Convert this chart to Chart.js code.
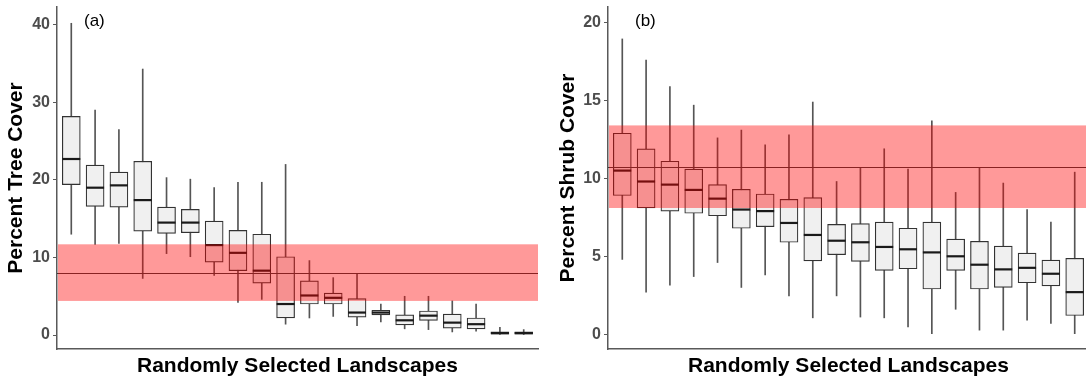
<!DOCTYPE html>
<html>
<head>
<meta charset="utf-8">
<script src="https://cdn.jsdelivr.net/npm/chart.js@4/dist/chart.umd.min.js"></script>
<style>
  html, body { margin: 0; padding: 0; background: #fff; width: 1086px; height: 381px; overflow: hidden; }
  #wrapA { position: absolute; left: 0; top: 0; }
  #wrapB { position: absolute; left: 543px; top: 0; }
</style>
</head>
<body>
<div id="wrapA"><canvas id="chartA" width="543" height="381"></canvas></div>
<div id="wrapB"><canvas id="chartB" width="551" height="381"></canvas></div>
<script>
// landscapes 1..20 (x positions on the discrete axis)
const landscapes = [1, 2, 3, 4, 5, 6, 7, 8, 9, 10, 11, 12, 13, 14, 15, 16, 17, 18, 19, 20];

// (a) percent tree cover
const treeLow  = [13.0, 11.7, 11.8, 7.3, 10.5, 10.1, 7.7, 4.2, 4.6, 1.4, 2.2, 2.4, 1.2, 1.7, 0.8, 0.7, 0.4, 0.5, 0.0, 0.0];
const treeQ1   = [19.4, 16.6, 16.5, 13.4, 13.1, 13.2, 9.4, 8.3, 6.7, 2.2, 4.0, 4.0, 2.3, 2.6, 1.3, 1.9, 0.9, 0.8, 0.1, 0.1];
const treeMed  = [22.7, 19.0, 19.3, 17.4, 14.5, 14.5, 11.6, 10.6, 8.3, 4.0, 5.1, 4.8, 2.9, 2.9, 1.9, 2.5, 1.6, 1.4, 0.25, 0.25];
const treeQ3   = [28.2, 21.9, 21.0, 22.4, 16.5, 16.2, 14.7, 13.5, 13.0, 10.1, 7.0, 5.4, 4.7, 3.2, 2.6, 3.1, 2.7, 2.2, 0.4, 0.4];
const treeHigh = [40.2, 29.0, 26.5, 34.3, 20.3, 20.1, 19.0, 19.7, 19.7, 22.0, 9.6, 7.4, 7.9, 4.0, 5.0, 5.0, 4.4, 4.0, 1.0, 0.7];
const treeBand = { mean: 8.0, lo: 4.4, hi: 11.7 };

// (b) percent shrub cover
const shrubLow  = [4.8, 2.7, 3.15, 3.7, 4.6, 3.0, 3.8, 2.46, 1.05, 2.46, 1.1, 1.05, 0.47, 0.0, 1.6, 0.26, 0.26, 0.9, 0.69, 0.0];
const shrubQ1   = [8.9, 8.1, 7.9, 7.76, 7.6, 6.8, 6.9, 5.9, 4.7, 5.1, 4.67, 4.1, 4.2, 2.9, 4.1, 2.9, 3.0, 3.3, 3.1, 1.2];
const shrubMed  = [10.5, 9.8, 9.6, 9.26, 8.7, 8.0, 7.9, 7.14, 6.37, 6.0, 5.9, 5.6, 5.45, 5.25, 5.0, 4.46, 4.16, 4.26, 3.88, 2.7];
const shrubQ3   = [12.9, 11.9, 11.1, 10.6, 9.6, 9.3, 9.0, 8.66, 8.77, 7.05, 7.1, 7.2, 6.8, 7.2, 6.1, 5.96, 5.66, 5.2, 4.76, 4.87];
const shrubHigh = [18.95, 17.6, 15.9, 14.7, 12.6, 13.1, 12.15, 12.8, 14.9, 9.8, 10.7, 11.9, 10.6, 13.7, 9.1, 10.7, 9.7, 8.0, 7.2, 10.4];
const shrubBand = { mean: 10.7, lo: 8.1, hi: 13.4 };

const tickFont = { family: '"Liberation Sans", Arial, sans-serif', size: 16, weight: 'bold' };
const titleFont = { family: '"Liberation Sans", Arial, sans-serif', size: 21, weight: 'bold' };

// mean line + red reference band drawn over the boxes, plus the panel tag
const bandPlugin = {
  id: 'band',
  afterDatasetsDraw(chart, args, opts) {
    const { ctx, chartArea: a, scales: { y } } = chart;
    ctx.save();
    ctx.beginPath();
    ctx.rect(a.left, a.top, a.right - a.left, a.bottom - a.top);
    ctx.clip();
    const ym = Math.round(y.getPixelForValue(opts.mean)) + 0.5;
    ctx.strokeStyle = '#3a3a3a';
    ctx.lineWidth = 1;
    ctx.beginPath();
    ctx.moveTo(a.left, ym);
    ctx.lineTo(a.right, ym);
    ctx.stroke();
    const yTop = y.getPixelForValue(opts.hi);
    const yBot = y.getPixelForValue(opts.lo);
    ctx.fillStyle = 'rgba(255, 0, 0, 0.4)';
    ctx.fillRect(a.left + 1, yTop, a.right - a.left, yBot - yTop);
    ctx.restore();

    ctx.save();
    ctx.fillStyle = '#000';
    ctx.font = '17px "Liberation Sans", Arial, sans-serif';
    ctx.textBaseline = 'middle';
    ctx.fillText(opts.tag, a.left + 27, 21);
    ctx.restore();
  }
};

function makePanel(id, low, q1, med, q3, high, band, tag, yTitle, yMin, yMax, step, yWidth, yTitlePad) {
  const whiskers = landscapes.map((x, i) => ({ x: x, y: [low[i], high[i]] }));
  const boxes = landscapes.map((x, i) => ({ x: x, y: [q1[i], q3[i]] }));
  const medians = landscapes.map((x, i) => ({ x: x, y: med[i] }));

  return new Chart(document.getElementById(id), {
    type: 'bar',
    data: {
      datasets: [
        {
          label: 'whisker',
          data: whiskers,
          grouped: false,
          barThickness: 1,
          backgroundColor: '#555',
          borderWidth: 0,
          order: 3
        },
        {
          label: 'box',
          data: boxes,
          grouped: false,
          barThickness: 18,
          backgroundColor: '#f0f0f0',
          borderColor: '#333',
          borderWidth: 1.2,
          borderSkipped: false,
          order: 2
        },
        {
          type: 'line',
          label: 'median',
          data: medians,
          showLine: false,
          pointStyle: 'line',
          pointRadius: 9,
          pointHoverRadius: 9,
          borderColor: '#1a1a1a',
          borderWidth: 2.2,
          order: 1
        }
      ]
    },
    options: {
      responsive: false,
      animation: false,
      devicePixelRatio: 1,
      layout: { autoPadding: false, padding: { left: 0, right: 5, top: 7, bottom: 0 } },
      plugins: {
        legend: { display: false },
        tooltip: { enabled: false },
        band: { mean: band.mean, lo: band.lo, hi: band.hi, tag: tag }
      },
      scales: {
        x: {
          type: 'linear',
          min: 0.4,
          max: 20.6,
          offset: false,
          grid: { display: false },
          border: { display: true, color: '#595959', width: 1.5 },
          ticks: { display: false },
          title: {
            display: true,
            text: 'Randomly Selected Landscapes',
            color: '#000',
            font: titleFont,
            padding: { top: 0, bottom: 2 }
          },
          afterFit: s => { s.height = 32; }
        },
        y: {
          min: yMin,
          max: yMax,
          grid: { display: true, drawOnChartArea: false, drawTicks: true, tickLength: 4, color: '#595959', lineWidth: 1 },
          border: { display: true, color: '#595959', width: 1.5 },
          ticks: { stepSize: step, includeBounds: false, color: '#4d4d4d', font: tickFont, padding: 3 },
          title: {
            display: true,
            text: yTitle,
            color: '#000',
            font: titleFont,
            padding: { top: yTitlePad, bottom: 0 }
          },
          afterFit: s => { s.width = yWidth; s.paddingTop = 0; s.paddingBottom = 0; }
        }
      }
    },
    plugins: [bandPlugin]
  });
}

makePanel('chartA', treeLow, treeQ1, treeMed, treeQ3, treeHigh, treeBand, '(a)',
  'Percent Tree Cover', -1.8, 42.3, 10, 57, 4);
makePanel('chartB', shrubLow, shrubQ1, shrubMed, shrubQ3, shrubHigh, shrubBand, '(b)',
  'Percent Shrub Cover', -0.95, 21.0, 5, 65, 13);
</script>
</body>
</html>
